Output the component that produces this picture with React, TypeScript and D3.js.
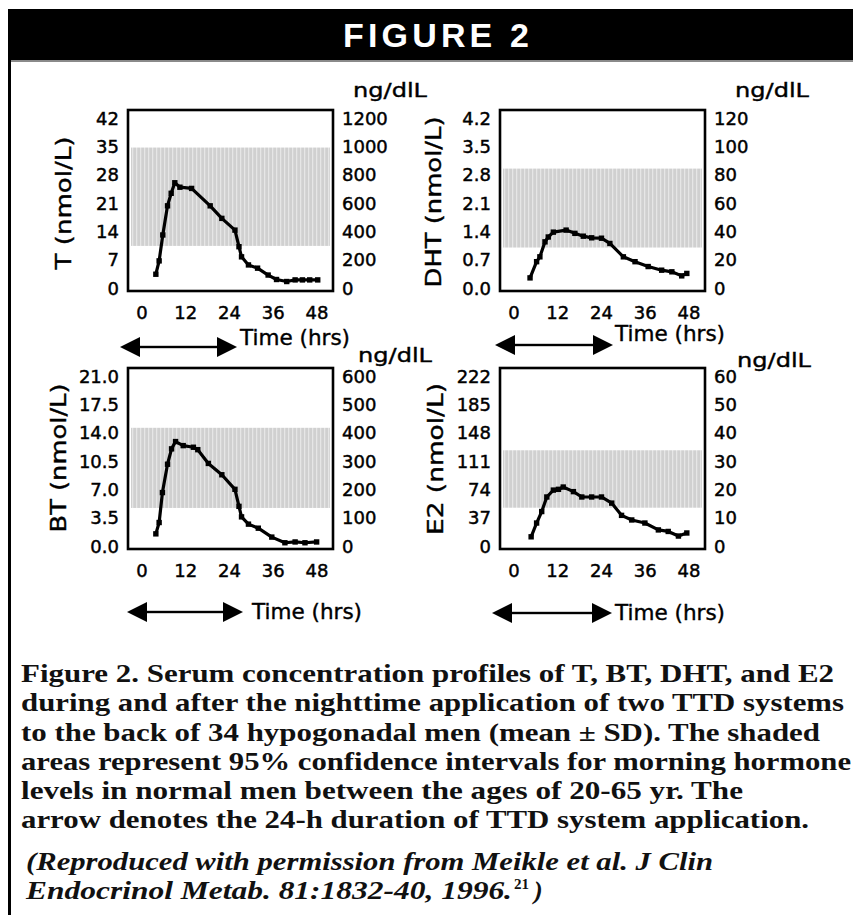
import React from 'react';
import * as d3 from 'd3';

// ---------- data ----------
const xTicks = [0, 12, 24, 36, 48];

const hoursT = [3.8, 4.7, 5.7, 7.0, 8.0, 9.0, 10.4, 13.6, 18.7, 21.9, 25.5, 26.6, 27.3, 29.2, 31.7, 34.6, 36.9, 39.7, 42.0, 44.0, 46.0, 48.2];
const valuesT = [3.4, 6.7, 13.1, 20.3, 23.4, 26.0, 24.9, 24.6, 20.3, 17.2, 14.3, 10.2, 7.7, 5.7, 4.9, 3.2, 2.1, 1.6, 2.0, 2.0, 2.0, 2.0];
const ticksT = [0, 7, 14, 21, 28, 35, 42];
const ticksTng = [0, 200, 400, 600, 800, 1000, 1200];
const bandT = [10.4, 34.7];

const hoursDHT = [4.4, 6.2, 7.1, 8.5, 9.4, 10.8, 14.3, 16.7, 19.0, 21.3, 24.0, 26.3, 30.0, 33.2, 36.8, 40.5, 43.3, 46.0, 47.4];
const valuesDHT = [0.25, 0.65, 0.77, 1.14, 1.26, 1.38, 1.43, 1.35, 1.28, 1.24, 1.23, 1.10, 0.77, 0.65, 0.53, 0.44, 0.40, 0.30, 0.36];
const ticksDHT = [0, 0.7, 1.4, 2.1, 2.8, 3.5, 4.2];
const ticksDHTng = [0, 20, 40, 60, 80, 100, 120];
const bandDHT = [1.0, 2.95];

const hoursBT = [3.8, 4.7, 5.6, 7.0, 8.1, 9.2, 11.3, 14.1, 15.3, 18.2, 21.9, 25.5, 26.6, 27.3, 29.2, 31.9, 35.6, 39.2, 42.0, 44.7, 47.9];
const valuesBT = [1.5, 2.9, 6.6, 10.1, 12.0, 12.9, 12.4, 12.2, 11.9, 10.2, 8.8, 7.0, 4.9, 3.6, 2.7, 2.2, 1.1, 0.4, 0.5, 0.4, 0.5];
const ticksBT = [0, 3.5, 7, 10.5, 14, 17.5, 21];
const ticksBTng = [0, 100, 200, 300, 400, 500, 600];
const bandBT = [4.7, 14.6];

const hoursE2 = [4.7, 6.2, 7.6, 9.0, 10.8, 12.2, 13.5, 16.3, 18.6, 21.3, 24.0, 26.8, 29.5, 32.3, 35.9, 39.6, 42.3, 45.1, 47.4];
const valuesE2 = [12, 30, 45, 64, 73, 74, 77, 71, 64, 64, 64, 56, 40, 34, 30, 21, 19, 13, 17];
const ticksE2 = [0, 37, 74, 111, 148, 185, 222];
const ticksE2ng = [0, 10, 20, 30, 40, 50, 60];
const bandE2 = [50, 125];

const captionLines = [
  'Figure 2. Serum concentration profiles of T, BT, DHT, and E2',
  'during and after the nighttime application of two TTD systems',
  'to the back of 34 hypogonadal men (mean \u00b1 SD). The shaded',
  'areas represent 95% confidence intervals for morning hormone',
  'levels in normal men between the ages of 20-65 yr.  The',
  'arrow denotes the 24-h duration of TTD system application.',
];
const captionWidths = [813, 823, 799, 830, 722, 788];
const creditLine1 = '(Reproduced with permission from Meikle et al. J Clin';
const creditLine2 = 'Endocrinol Metab. 81:1832-40, 1996.';

// ---------- layout ----------
const BOX_W = 205;
const BOX_H = 181;
const SANS = '"DejaVu Sans", sans-serif';
const SERIF = '"Liberation Serif", "Times New Roman", serif';

const panels = [
  {
    title: 'T (nmol/L)', titleLen: 133, titleX: 63, titleY: 203,
    bx: 128, by: 110, yMax: 42, rMax: 1200,
    left: ticksT, right: ticksTng, fmt: (v: number) => String(v),
    hours: hoursT, values: valuesT, band: bandT,
    unit: [225, -20], arrow: [-8, 109, 237], time: [112, 228],
  },
  {
    title: 'DHT (nmol/L)', titleLen: 171, titleX: 433, titleY: 202,
    bx: 500, by: 110, yMax: 4.2, rMax: 120,
    left: ticksDHT, right: ticksDHTng, fmt: d3.format('.1f'),
    hours: hoursDHT, values: valuesDHT, band: bandDHT,
    unit: [235, -20], arrow: [-5, 113, 235], time: [115, 224],
  },
  {
    title: 'BT (nmol/L)', titleLen: 149, titleX: 58, titleY: 458,
    bx: 128, by: 368, yMax: 21, rMax: 600,
    left: ticksBT, right: ticksBTng, fmt: d3.format('.1f'),
    hours: hoursBT, values: valuesBT, band: bandBT,
    unit: [230, -13], arrow: [-1, 115, 244], time: [124, 244],
  },
  {
    title: 'E2 (nmol/L)', titleLen: 152, titleX: 435, titleY: 459,
    bx: 500, by: 368, yMax: 222, rMax: 60,
    left: ticksE2, right: ticksE2ng, fmt: (v: number) => String(v),
    hours: hoursE2, values: valuesE2, band: bandE2,
    unit: [237, -8], arrow: [-8, 112, 245], time: [115, 245],
  },
];

function Arrow({ x1, x2, y }: { x1: number; x2: number; y: number }) {
  const hl = 20;
  const hh = 10;
  return (
    <g fill="#000" stroke="none">
      <rect x={x1 + hl - 1} y={y - 1.2} width={x2 - x1 - 2 * hl + 2} height={2.4} />
      <polygon points={`${x1},${y} ${x1 + hl},${y - hh} ${x1 + hl},${y + hh}`} />
      <polygon points={`${x2},${y} ${x2 - hl},${y - hh} ${x2 - hl},${y + hh}`} />
    </g>
  );
}

const tickStyle = { fontFamily: SANS, fontSize: 18, fill: '#000', stroke: '#000', strokeWidth: 0.45 };

function Panel({ p }: { p: any }) {
  const x = d3.scaleLinear().domain([0, 48]).range([p.bx + 14, p.bx + 189]);
  const y = d3.scaleLinear().domain([0, p.yMax]).range([p.by + 178, p.by + 8]);
  const yR = d3.scaleLinear().domain([0, p.rMax]).range([p.by + 178, p.by + 8]);
  const pts: [number, number][] = p.hours.map((h: number, i: number) => [h, p.values[i]]);
  const line = d3.line<[number, number]>().x((d) => x(d[0])).y((d) => y(d[1]));
  const bandTop = y(p.band[1]);
  const bandBottom = y(p.band[0]);
  return (
    <g>
      <rect x={p.bx + 3} y={bandTop} width={BOX_W - 6} height={bandBottom - bandTop} fill="url(#bandPattern)" />
      <rect x={p.bx} y={p.by} width={BOX_W} height={BOX_H} fill="none" stroke="#000" strokeWidth={2.6} />
      <path d={line(pts) || ''} fill="none" stroke="#000" strokeWidth={3.2} strokeLinejoin="round" strokeLinecap="round" />
      {pts.map((d, i) => (
        <rect key={i} x={x(d[0]) - 2.7} y={y(d[1]) - 2.7} width={5.4} height={5.4} fill="#000" />
      ))}
      {p.left.map((t: number) => (
        <text key={'l' + t} x={p.bx - 9} y={y(t)} textAnchor="end" dominantBaseline="central" {...tickStyle}>{p.fmt(t)}</text>
      ))}
      {p.right.map((t: number) => (
        <text key={'r' + t} x={p.bx + BOX_W + 9} y={yR(t)} textAnchor="start" dominantBaseline="central" {...tickStyle}>{String(t)}</text>
      ))}
      {xTicks.map((t) => (
        <text key={'x' + t} x={x(t)} y={p.by + BOX_H + 21} textAnchor="middle" dominantBaseline="central" {...tickStyle}>{String(t)}</text>
      ))}
      <text x={p.bx + p.unit[0]} y={p.by + p.unit[1]} dominantBaseline="central" fontFamily={SANS}
        fontSize={20} textLength={74} lengthAdjust="spacingAndGlyphs" fill="#000" stroke="#000" strokeWidth={0.4}>ng/dlL</text>
      <text transform={`translate(${p.titleX},${p.titleY}) rotate(-90)`} textAnchor="middle" dominantBaseline="central"
        fontFamily={SANS} fontSize={22} textLength={p.titleLen} lengthAdjust="spacingAndGlyphs" fill="#000"
        stroke="#000" strokeWidth={0.4}>{p.title}</text>
      <Arrow x1={p.bx + p.arrow[0]} x2={p.bx + p.arrow[1]} y={p.by + p.arrow[2]} />
      <text x={p.bx + p.time[0]} y={p.by + p.time[1]} dominantBaseline="central" fontFamily={SANS}
        fontSize={21} textLength={110} lengthAdjust="spacingAndGlyphs" fill="#000" stroke="#000" strokeWidth={0.4}>Time (hrs)</text>
    </g>
  );
}

export default function App() {
  const baselines = [682, 711, 741, 770, 799, 828];
  return (
    <svg width={853} height={915} viewBox="0 0 853 915"
      style={{ position: 'absolute', left: 0, top: 0, background: '#fff' }}>
      <defs>
        <pattern id="bandPattern" patternUnits="userSpaceOnUse" width={4} height={4}>
          <rect width={4} height={4} fill="#d0d0d0" />
          <rect x={0} width={1.3} height={4} fill="#e6e6e6" />
        </pattern>
      </defs>
      <rect x={0} y={0} width={853} height={915} fill="#fff" />
      <rect x={8} y={9} width={845} height={51} fill="#000" />
      <rect x={8} y={60} width={845} height={2} fill="#8a8a8a" />
      <text x={436} y={47} textAnchor="middle" fontFamily='"Liberation Sans", Arial, sans-serif' fontWeight="bold"
        fontSize={34} fill="#fff" textLength={186} lengthAdjust="spacing">FIGURE 2</text>
      <rect x={8} y={60} width={3} height={855} fill="#000" />
      {panels.map((p, i) => <Panel key={i} p={p} />)}
      {captionLines.map((l, i) => (
        <text key={i} x={21} y={baselines[i]} fontFamily={SERIF} fontWeight="bold"
          fontSize={26} textLength={captionWidths[i]} lengthAdjust="spacingAndGlyphs" fill="#111">{l}</text>
      ))}
      <text x={26} y={870} fontFamily={SERIF} fontWeight="bold" fontStyle="italic"
        fontSize={26} textLength={687} lengthAdjust="spacingAndGlyphs" fill="#111">{creditLine1}</text>
      <text x={26} y={899} fontFamily={SERIF} fontWeight="bold" fontStyle="italic"
        fontSize={26} textLength={486} lengthAdjust="spacingAndGlyphs" fill="#111">{creditLine2}</text>
      <text x={514} y={889} fontFamily={SERIF} fontWeight="bold" fontSize={15} fill="#111">21</text>
      <text x={534} y={899} fontFamily={SERIF} fontWeight="bold" fontStyle="italic" fontSize={26} fill="#111">)</text>
    </svg>
  );
}
